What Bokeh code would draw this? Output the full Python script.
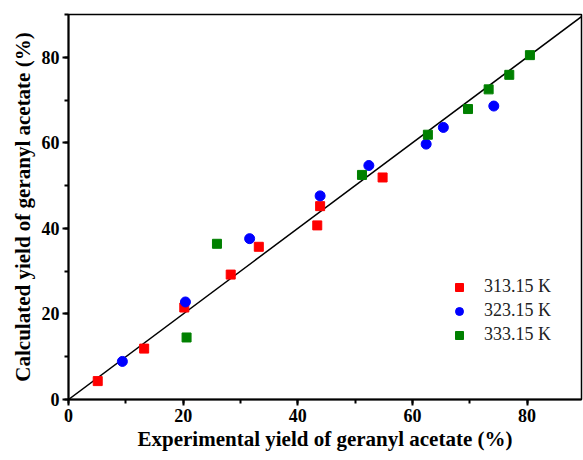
from bokeh.plotting import figure
from bokeh.models import Range1d, SingleIntervalTicker, Legend, LegendItem
from bokeh.embed import file_html
from bokeh.resources import INLINE

# data (experimental %, calculated %)
x_313 = [5.1, 13.2, 20.2, 28.3, 33.2, 43.4, 43.9, 54.8]
y_313 = [4.3, 11.9, 21.5, 29.2, 35.7, 40.7, 45.2, 51.9]
x_323 = [9.4, 20.4, 31.6, 43.9, 52.4, 62.4, 65.4, 74.2]
y_323 = [8.9, 22.8, 37.6, 47.6, 54.7, 59.7, 63.6, 68.6]
x_333 = [20.6, 25.9, 51.2, 62.7, 69.7, 73.3, 76.9, 80.5]
y_333 = [14.5, 36.4, 52.5, 61.9, 67.9, 72.5, 75.9, 80.5]
fit_x = [0, 90]
fit_y = [0, 90]
labels = ["313.15 K", "323.15 K", "333.15 K"]

FONT = "Liberation Serif"

p = figure(width=583, height=460, output_backend="svg", toolbar_location=None,
           x_range=Range1d(0, 89.5), y_range=Range1d(0, 90),
           min_border_left=68, min_border_right=2, min_border_top=14, min_border_bottom=61)

p.xgrid.visible = False
p.ygrid.visible = False
p.outline_line_color = "black"
p.outline_line_width = 1.5
p.background_fill_color = "white"
p.border_fill_color = "white"

for ax in (p.xaxis[0], p.yaxis[0]):
    ax.ticker = SingleIntervalTicker(interval=20, num_minor_ticks=2)
    ax.axis_line_width = 2
    ax.axis_line_color = "black"
    ax.major_tick_line_width = 2
    ax.minor_tick_line_width = 2
    ax.major_tick_out = 6
    ax.major_tick_in = 0
    ax.minor_tick_out = 4
    ax.minor_tick_in = 0
    ax.major_label_text_font = FONT
    ax.major_label_text_font_style = "bold"
    ax.major_label_text_font_size = "18px"
    ax.major_label_text_color = "black"
    ax.axis_label_text_font = FONT
    ax.axis_label_text_font_style = "bold"
    ax.axis_label_text_font_size = "21px"
    ax.axis_label_text_color = "black"

p.xaxis.axis_label = "Experimental yield of geranyl acetate (%)"
p.yaxis.axis_label = "Calculated yield of geranyl acetate (%)"
p.xaxis.major_label_standoff = 3
p.yaxis.major_label_standoff = 3
p.xaxis.axis_label_standoff = 2
p.yaxis.axis_label_standoff = 4

p.line(fit_x, fit_y, line_color="black", line_width=1.5)

r1 = p.scatter(x_313, y_313, marker="square", size=9, fill_color="#ff0000", line_color="#ff0000")
r2 = p.scatter(x_323, y_323, marker="circle", size=10, fill_color="#0000ff", line_color="#0000ff")
r3 = p.scatter(x_333, y_333, marker="square", size=9, fill_color="#008000", line_color="#008000")

legend = Legend(items=[LegendItem(label=labels[0], renderers=[r1]),
                       LegendItem(label=labels[1], renderers=[r2]),
                       LegendItem(label=labels[2], renderers=[r3])],
                location=(381, 54), border_line_color=None, background_fill_alpha=0,
                label_text_font=FONT, label_text_font_size="18px", label_text_color="#222222",
                label_standoff=15, spacing=3, glyph_width=20, glyph_height=20, label_height=20,
                padding=10)
p.add_layout(legend, "center")

open("out.html", "w").write(file_html(p, INLINE))
